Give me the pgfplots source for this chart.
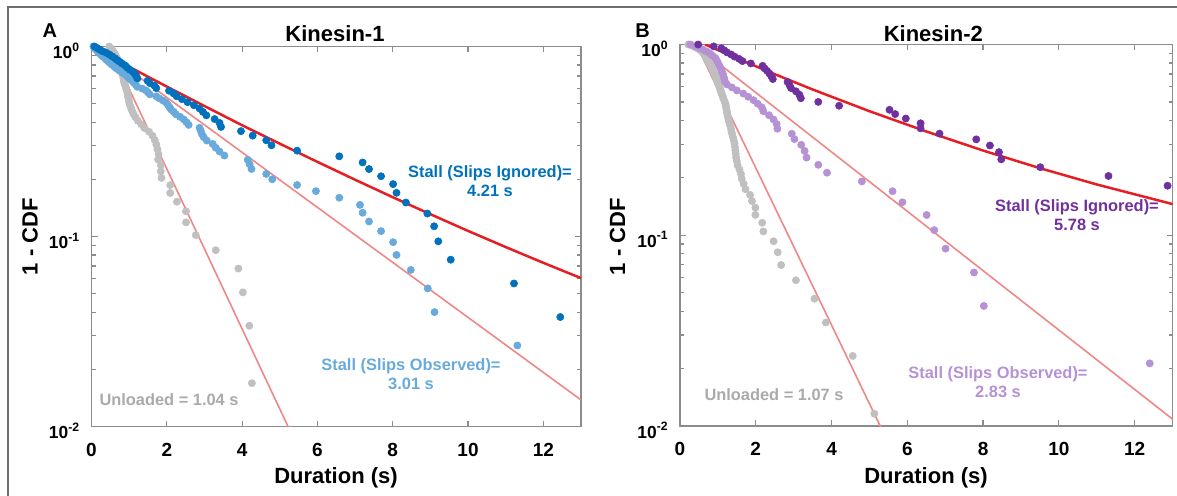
\documentclass[border=0pt]{standalone}
\usepackage{fontspec}
\setmainfont{Liberation Sans}
\usepackage{pgfplots}
\pgfplotsset{compat=1.18}
\definecolor{dblue}{RGB}{0,114,189}
\definecolor{lblue}{RGB}{104,170,220}
\definecolor{lgray}{RGB}{192,192,192}
\definecolor{fitred}{RGB}{228,30,35}
\definecolor{fitpink}{RGB}{240,135,135}
\definecolor{dpurp}{RGB}{112,48,160}
\definecolor{lpurp}{RGB}{182,145,212}
\definecolor{axgray}{RGB}{140,140,140}
\definecolor{framegray}{RGB}{110,110,110}
\definecolor{txtgray}{RGB}{170,170,170}
\newcommand{\xl}[1]{\raisebox{-14.3pt}[0pt][0pt]{#1}}
\newcommand{\yl}[1]{\raisebox{-6.1pt}[0pt][0pt]{10\textsuperscript{#1}}}
\pgfplotsset{
  kdots/.style={only marks, mark=*, mark size=1.8pt, line width=0.3pt},
  kfit/.style={fitred, line width=1.25pt, no marks},
  kfitl/.style={fitpink, line width=0.8pt, no marks},
}
\begin{document}
\begin{tikzpicture}
\useasboundingbox (0,0) rectangle (588.5pt,248pt);
\draw[framegray, line width=1pt] (4.15pt,-5pt) -- (4.15pt,244.35pt) -- (600pt,244.35pt);
% Panel A
\begin{axis}[at={(45.75pt,34.75pt)}, anchor=south west, width=244.75pt, height=190pt,
  scale only axis, ymode=log, xmin=0, xmax=13, ymin=0.01, ymax=1,
  xtick={0,2,4,6,8,10,12}, xticklabels={\xl{0},\xl{2},\xl{4},\xl{6},\xl{8},\xl{10},\xl{12}},
  ytick={0.01,0.1,1},
  yticklabels={\yl{-2},\yl{-1},\yl{0}},
  minor ytick={0.02,0.03,0.04,0.05,0.06,0.07,0.08,0.09,0.2,0.3,0.4,0.5,0.6,0.7,0.8,0.9},
  tick align=inside, major tick length=3pt, minor tick length=2pt,
  axis line style={axgray, line width=0.8pt},
  tick style={axgray, line width=0.6pt},
  xticklabel style={font=\bfseries\fontsize{9.5}{9.5}\selectfont, text=black, inner sep=0pt},
  yticklabel style={font=\bfseries\fontsize{8.7}{8.7}\selectfont, text=black, inner sep=0pt, xshift=-5.5pt},
  clip=true]
\addplot[kdots, color=lgray] coordinates {
(0.47,1.0000)(0.50,0.9831)(0.53,0.9661)(0.56,0.9492)(0.59,0.9322)(0.62,0.9153)(0.64,0.8983)(0.66,0.8814)(0.68,0.8644)(0.70,0.8475)
(0.72,0.8305)(0.74,0.8136)(0.76,0.7966)(0.77,0.7797)(0.79,0.7627)(0.80,0.7458)(0.82,0.7288)(0.83,0.7119)(0.84,0.6949)(0.85,0.6780)
(0.86,0.6610)(0.87,0.6441)(0.89,0.6271)(0.91,0.6102)(0.93,0.5932)(0.95,0.5763)(0.96,0.5593)(0.97,0.5424)(0.99,0.5254)(1.00,0.5085)
(1.02,0.4915)(1.05,0.4746)(1.08,0.4576)(1.12,0.4407)(1.17,0.4237)(1.23,0.4068)(1.32,0.3898)(1.40,0.3729)(1.53,0.3559)(1.62,0.3390)
(1.68,0.3220)(1.72,0.3051)(1.75,0.2881)(1.78,0.2712)(1.77,0.2542)(1.84,0.2373)(1.84,0.2203)(1.86,0.2034)(2.09,0.1864)(2.09,0.1695)
(2.27,0.1525)(2.51,0.1356)(2.51,0.1186)(2.77,0.1017)(3.30,0.0847)(3.90,0.0678)(4.02,0.0508)(4.19,0.0339)(4.26,0.0169)};
\addplot[kdots, color=lblue] coordinates {
(0.05,1.0000)(0.08,0.9867)(0.10,0.9733)(0.13,0.9600)(0.16,0.9467)(0.18,0.9333)(0.21,0.9200)(0.25,0.9067)(0.28,0.8933)(0.32,0.8800)
(0.36,0.8667)(0.39,0.8533)(0.43,0.8400)(0.47,0.8267)(0.51,0.8133)(0.55,0.8000)(0.60,0.7867)(0.64,0.7733)(0.69,0.7600)(0.74,0.7467)
(0.80,0.7333)(0.86,0.7200)(0.92,0.7067)(0.96,0.6933)(1.00,0.6800)(1.05,0.6667)(1.10,0.6533)(1.14,0.6400)(1.18,0.6267)(1.22,0.6133)
(1.35,0.6000)(1.45,0.5867)(1.50,0.5733)(1.55,0.5600)(1.72,0.5467)(1.80,0.5333)(1.90,0.5200)(1.98,0.5067)(2.03,0.4933)(2.07,0.4800)
(2.11,0.4667)(2.18,0.4533)(2.24,0.4400)(2.35,0.4267)(2.45,0.4133)(2.52,0.4000)(2.58,0.3867)(2.87,0.3733)(2.90,0.3600)(2.93,0.3467)
(2.98,0.3333)(3.06,0.3200)(3.22,0.3067)(3.30,0.2933)(3.40,0.2800)(3.53,0.2667)(4.15,0.2533)(4.20,0.2400)(4.25,0.2267)(4.64,0.2133)
(4.80,0.2000)(5.46,0.1867)(5.96,0.1733)(6.58,0.1600)(7.13,0.1467)(7.20,0.1333)(7.37,0.1200)(7.69,0.1067)(8.01,0.0933)(8.10,0.0800)
(8.48,0.0667)(8.93,0.0533)(9.11,0.0400)(11.31,0.0267)};
\addplot[kdots, color=dblue] coordinates {
(0.08,1.0000)(0.15,0.9811)(0.22,0.9623)(0.30,0.9434)(0.40,0.9245)(0.48,0.9057)(0.55,0.8868)(0.62,0.8679)(0.68,0.8491)(0.75,0.8302)
(0.82,0.8113)(0.90,0.7925)(0.95,0.7736)(1.02,0.7547)(1.10,0.7358)(1.15,0.7170)(1.19,0.6981)(1.22,0.6792)(1.49,0.6604)(1.55,0.6415)
(1.67,0.6226)(1.72,0.6038)(2.06,0.5849)(2.18,0.5660)(2.26,0.5472)(2.40,0.5283)(2.55,0.5094)(2.72,0.4906)(2.87,0.4717)(2.96,0.4528)
(3.05,0.4340)(3.27,0.4151)(3.40,0.3962)(3.44,0.3774)(3.97,0.3585)(4.28,0.3396)(4.64,0.3208)(4.78,0.3019)(5.46,0.2830)(6.58,0.2642)
(7.20,0.2453)(7.37,0.2264)(7.69,0.2075)(8.01,0.1887)(8.10,0.1698)(8.35,0.1509)(8.92,0.1321)(9.10,0.1132)(9.21,0.0943)(9.54,0.0755)
(11.22,0.0566)(12.45,0.0377)};
\addplot[kfitl] coordinates {(0.47,1)(5.3,0.00925)};
\addplot[kfitl] coordinates {(0.15,1)(13,0.0138)};
\addplot[kfit] coordinates {(0.1,0.976)(1,0.782)(2,0.615)(3,0.486)(4,0.385)(5,0.308)(6,0.247)(7,0.199)(8,0.161)(9,0.131)(10,0.107)(11,0.0880)(12,0.0727)(13,0.0604)};
\end{axis}
% Panel B
\begin{axis}[at={(340pt,35pt)}, anchor=south west, width=246.25pt, height=190.75pt,
  scale only axis, ymode=log, xmin=0, xmax=13, ymin=0.01, ymax=1,
  xtick={0,2,4,6,8,10,12}, xticklabels={\xl{0},\xl{2},\xl{4},\xl{6},\xl{8},\xl{10},\xl{12}},
  ytick={0.01,0.1,1},
  yticklabels={\yl{-2},\yl{-1},\yl{0}},
  minor ytick={0.02,0.03,0.04,0.05,0.06,0.07,0.08,0.09,0.2,0.3,0.4,0.5,0.6,0.7,0.8,0.9},
  tick align=inside, major tick length=3pt, minor tick length=2pt,
  axis line style={axgray, line width=0.8pt},
  tick style={axgray, line width=0.6pt},
  xticklabel style={font=\bfseries\fontsize{9.5}{9.5}\selectfont, text=black, inner sep=0pt},
  yticklabel style={font=\bfseries\fontsize{8.7}{8.7}\selectfont, text=black, inner sep=0pt, xshift=-5.5pt},
  clip=true]
\addplot[kdots, color=lgray] coordinates {
(0.22,1.0000)(0.30,0.9884)(0.36,0.9767)(0.42,0.9651)(0.47,0.9535)(0.51,0.9419)(0.55,0.9302)(0.58,0.9186)(0.61,0.9070)(0.63,0.8953)
(0.65,0.8837)(0.67,0.8721)(0.69,0.8605)(0.70,0.8488)(0.72,0.8372)(0.73,0.8256)(0.75,0.8140)(0.77,0.8023)(0.78,0.7907)(0.80,0.7791)
(0.82,0.7674)(0.84,0.7558)(0.85,0.7442)(0.87,0.7326)(0.88,0.7209)(0.90,0.7093)(0.92,0.6977)(0.94,0.6860)(0.95,0.6744)(0.96,0.6628)
(0.98,0.6512)(0.99,0.6395)(1.00,0.6279)(1.02,0.6163)(1.03,0.6047)(1.05,0.5930)(1.06,0.5814)(1.08,0.5698)(1.09,0.5581)(1.11,0.5465)
(1.13,0.5349)(1.14,0.5233)(1.16,0.5116)(1.18,0.5000)(1.20,0.4884)(1.21,0.4767)(1.22,0.4651)(1.23,0.4535)(1.24,0.4419)(1.25,0.4302)
(1.26,0.4186)(1.28,0.4070)(1.29,0.3953)(1.31,0.3837)(1.33,0.3721)(1.35,0.3605)(1.36,0.3488)(1.38,0.3372)(1.40,0.3256)(1.42,0.3140)
(1.44,0.3023)(1.45,0.2907)(1.46,0.2791)(1.47,0.2674)(1.48,0.2558)(1.50,0.2442)(1.52,0.2326)(1.57,0.2209)(1.61,0.2093)(1.63,0.1977)
(1.68,0.1860)(1.73,0.1744)(1.85,0.1628)(1.90,0.1512)(1.99,0.1395)(1.99,0.1279)(2.17,0.1163)(2.20,0.1047)(2.47,0.0930)(2.58,0.0814)
(2.67,0.0698)(3.06,0.0581)(3.55,0.0465)(3.85,0.0349)(4.56,0.0233)(5.13,0.0116)};
\addplot[kdots, color=lpurp] coordinates {
(0.27,1.0000)(0.40,0.9787)(0.52,0.9574)(0.62,0.9362)(0.72,0.9149)(0.80,0.8936)(0.86,0.8723)(0.93,0.8511)(0.96,0.8298)(0.99,0.8085)
(1.02,0.7872)(1.05,0.7660)(1.08,0.7447)(1.10,0.7234)(1.13,0.7021)(1.15,0.6809)(1.17,0.6596)(1.19,0.6383)(1.24,0.6170)(1.37,0.5957)
(1.50,0.5745)(1.67,0.5532)(1.80,0.5319)(1.94,0.5106)(2.05,0.4894)(2.16,0.4681)(2.20,0.4468)(2.35,0.4255)(2.47,0.4043)(2.55,0.3830)
(2.57,0.3617)(2.95,0.3404)(3.02,0.3191)(3.20,0.2979)(3.29,0.2766)(3.34,0.2553)(3.65,0.2340)(3.88,0.2128)(4.80,0.1915)(5.61,0.1702)
(5.87,0.1489)(6.51,0.1277)(6.71,0.1064)(7.01,0.0851)(7.76,0.0638)(8.02,0.0426)(12.40,0.0213)};
\addplot[kdots, color=dpurp] coordinates {
(0.48,1.0000)(0.89,0.9773)(1.09,0.9545)(1.17,0.9318)(1.24,0.9091)(1.35,0.8864)(1.44,0.8636)(1.56,0.8409)(1.65,0.8182)(1.87,0.7955)
(2.18,0.7727)(2.23,0.7500)(2.30,0.7273)(2.36,0.7045)(2.41,0.6818)(2.45,0.6591)(2.84,0.6364)(2.89,0.6136)(2.93,0.5909)(3.06,0.5682)
(3.15,0.5455)(3.19,0.5227)(3.65,0.5000)(4.20,0.4773)(5.53,0.4545)(5.68,0.4318)(5.96,0.4091)(6.35,0.3864)(6.35,0.3636)(6.85,0.3409)
(7.82,0.3182)(8.18,0.2955)(8.42,0.2727)(8.48,0.2500)(9.51,0.2273)(11.31,0.2045)(12.87,0.1818)};
\addplot[kfitl] coordinates {(0.43,1)(5.35,0.0094)};
\addplot[kfitl] coordinates {(0.38,1)(13,0.01087)};
\addplot[kfit] coordinates {(0.66,1)(1.5,0.847)(2.5,0.699)(3.5,0.581)(5,0.447)(6.5,0.350)(8,0.278)(9.5,0.2247)(11,0.1846)(13,0.1457)};
\end{axis}
% Texts
\tikzset{lab/.style={font=\bfseries\fontsize{11}{11}\selectfont, inner sep=0pt}}
\tikzset{ann/.style={font=\bfseries\fontsize{8.2}{9.35}\selectfont, inner sep=0pt, align=center}}
\node[font=\bfseries\fontsize{10}{10}\selectfont, inner sep=0pt, anchor=base] at (24.9pt,229.35pt) {A};
\node[font=\bfseries\fontsize{10}{10}\selectfont, inner sep=0pt, anchor=base] at (321.25pt,229.35pt) {B};
\node[lab, anchor=base] at (167.5pt,227.15pt) {Kinesin-1};
\node[lab, anchor=base] at (466.65pt,227.15pt) {Kinesin-2};
\node[lab, anchor=base] at (168pt,6.4pt) {Duration (s)};
\node[lab, anchor=base] at (463pt,6.4pt) {Duration (s)};
\node[lab, rotate=90] at (15pt,129.65pt) {1 - CDF};
\node[lab, rotate=90] at (308.75pt,129.65pt) {1 - CDF};
\node[ann, text=dblue] at (245pt,157.3pt) {Stall (Slips Ignored)=\\4.21 s};
\node[ann, text=lblue] at (205.5pt,61pt) {Stall (Slips Observed)=\\3.01 s};
\node[ann, text=txtgray] at (84.5pt,48.05pt) {Unloaded = 1.04 s};
\node[ann, text=dpurp] at (538.5pt,140.5pt) {Stall (Slips Ignored)=\\5.78 s};
\node[ann, text=lpurp] at (499pt,56.75pt) {Stall (Slips Observed)=\\2.83 s};
\node[ann, text=txtgray] at (387pt,50.5pt) {Unloaded = 1.07 s};
\end{tikzpicture}
\end{document}
